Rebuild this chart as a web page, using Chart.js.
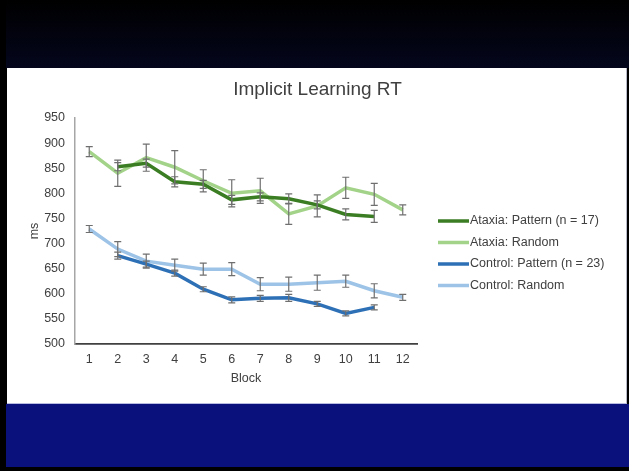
<!DOCTYPE html>
<html lang="en">
<head>
<meta charset="UTF-8">
<title>Implicit Learning RT</title>
<script src="https://cdn.jsdelivr.net/npm/chart.js@4"></script>
<style>
  html, body { margin: 0; padding: 0; }
  body { width: 629px; height: 471px; background: #000; position: relative; overflow: hidden; }
  .top-band { position: absolute; left: 6px; top: 0; width: 623px; height: 68px; background: linear-gradient(#000000, #04061c); }
  .slide { position: absolute; left: 7px; top: 68px; width: 619px; height: 335px; background: #fff; border-right: 1px solid #b8b8c8; border-bottom: 1px solid #b8bce0; }
  .bottom-band { position: absolute; left: 6px; top: 404px; width: 623px; height: 63px; background: #0a117c; }
</style>
</head>
<body>
  <div class="top-band"></div>
  <div class="slide"><canvas id="rtChart" width="619" height="335"></canvas></div>
  <div class="bottom-band"></div>

<script>
  // block numbers on the x axis
  var blocks = ['1', '2', '3', '4', '5', '6', '7', '8', '9', '10', '11', '12'];

  // mean RT (ms)
  var ataxiaPattern  = [null, 853, 860, 823, 818, 787, 793, 789, 777, 758, 754, null];
  var ataxiaRandom   = [883, 840, 871, 852, 825, 800, 805, 759, 775, 811, 798, 767];
  var controlPattern = [null, 676, 659, 641, 609, 588, 591, 592, 580, 561, 573, null];
  var controlRandom  = [729, 689, 665, 657, 649, 649, 619, 619, 622, 625, 606, 593];

  // standard error (+/- ms)
  var ataxiaPatternErr  = [null, 8, 8, 10, 8, 9, 8, 10, 8, 11, 12, null];
  var ataxiaRandomErr   = [10, 26, 27, 33, 22, 27, 25, 21, 22, 21, 22, 10];
  var controlPatternErr = [null, 7, 6, 6, 5, 6, 6, 7, 5, 5, 5, null];
  var controlRandomErr  = [7, 15, 14, 12, 12, 13, 13, 14, 15, 12, 14, 6];

  var seriesNames = ['Ataxia: Pattern (n = 17)', 'Ataxia: Random', 'Control: Pattern (n = 23)', 'Control: Random'];
  var seriesColors = ['#3b7d23', '#a3d389', '#2e70b6', '#9dc3e6'];
  var chartTitle = 'Implicit Learning RT';

  var textColor = '#404040';
  var font = 'Arial, "Liberation Sans", sans-serif';

  function makeSet(i, values, errs) {
    return {
      label: seriesNames[i],
      data: values,
      errors: errs,
      borderColor: seriesColors[i],
      backgroundColor: seriesColors[i],
      borderWidth: 3.5,
      pointRadius: 0,
      tension: 0
    };
  }

  // error bars: drawn over the lines through the chart's scales
  var errorBars = {
    id: 'errorBars',
    afterDatasetsDraw: function (chart) {
      var ctx = chart.ctx;
      var xs = chart.scales.x, ys = chart.scales.y;
      ctx.save();
      ctx.strokeStyle = '#6f6f6f';
      ctx.lineWidth = 1.2;
      chart.data.datasets.forEach(function (ds) {
        for (var j = 0; j < ds.data.length; j++) {
          if (ds.data[j] === null) continue;
          var x = xs.getPixelForValue(j);
          var top = ys.getPixelForValue(ds.data[j] + ds.errors[j]);
          var bot = ys.getPixelForValue(ds.data[j] - ds.errors[j]);
          ctx.beginPath();
          ctx.moveTo(x, top); ctx.lineTo(x, bot);
          ctx.moveTo(x - 3.5, top); ctx.lineTo(x + 3.5, top);
          ctx.moveTo(x - 3.5, bot); ctx.lineTo(x + 3.5, bot);
          ctx.stroke();
        }
      });
      ctx.restore();
    }
  };

  // title centred on the whole slide + legend to the right of the plot
  var sideLegend = {
    id: 'sideLegend',
    afterDraw: function (chart) {
      var ctx = chart.ctx;
      ctx.save();
      ctx.fillStyle = textColor;
      ctx.textBaseline = 'middle';
      ctx.textAlign = 'center';
      ctx.font = '19px ' + font;
      ctx.fillText(chartTitle, chart.width / 2 + 1, 22);

      var x0 = 431, y0 = 153, step = 21.5;
      ctx.textAlign = 'left';
      ctx.font = '12.5px ' + font;
      chart.data.datasets.forEach(function (ds, i) {
        var y = y0 + i * step;
        ctx.strokeStyle = ds.borderColor;
        ctx.lineWidth = 3.5;
        ctx.beginPath();
        ctx.moveTo(x0, y); ctx.lineTo(x0 + 31, y);
        ctx.stroke();
        ctx.fillText(ds.label, x0 + 32, y);
      });
      ctx.restore();
    }
  };

  var ctx = document.getElementById('rtChart').getContext('2d');
  var rtChart = new Chart(ctx, {
    type: 'line',
    data: {
      labels: blocks,
      datasets: [
        makeSet(0, ataxiaPattern, ataxiaPatternErr),
        makeSet(1, ataxiaRandom, ataxiaRandomErr),
        makeSet(2, controlPattern, controlPatternErr),
        makeSet(3, controlRandom, controlRandomErr)
      ]
    },
    options: {
      responsive: false,
      animation: false,
      layout: { padding: { left: 0, right: 209, top: 50, bottom: 0 } },
      plugins: {
        legend: { display: false },
        tooltip: { enabled: false },
        title: { display: false }
      },
      scales: {
        x: {
          offset: true,
          grid: { display: false, drawTicks: false },
          border: { color: '#404040', width: 1.8 },
          ticks: { color: textColor, font: { family: font, size: 12.5 }, padding: 8, maxRotation: 0 },
          title: { display: true, text: 'Block', color: textColor, font: { family: font, size: 12.5 }, padding: { top: 4, bottom: 17 } },
          afterFit: function (scale) { scale.height = 59; }
        },
        y: {
          min: 500,
          max: 950,
          grid: { display: false, drawTicks: false },
          border: { color: '#a6a6a6', width: 1.5 },
          ticks: { stepSize: 50, color: textColor, font: { family: font, size: 12.5 }, padding: 10 },
          title: { display: true, text: 'ms', color: textColor, font: { family: font, size: 12.5 }, padding: { top: 20, bottom: 0 } },
          afterFit: function (scale) { scale.width = 68; }
        }
      }
    },
    plugins: [errorBars, sideLegend]
  });
</script>
</body>
</html>
